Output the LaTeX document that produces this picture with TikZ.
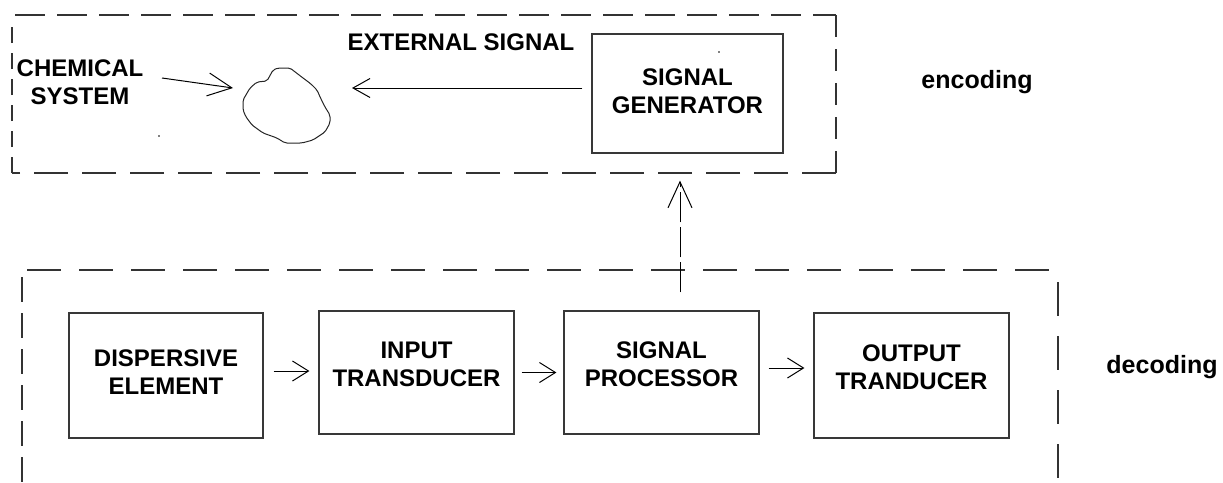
\documentclass[tikz,border=0pt]{standalone}
\usepackage{fontspec}
\setmainfont{Liberation Sans}
\usetikzlibrary{arrows.meta}
\begin{document}
\begin{tikzpicture}[x=1pt,y=-1pt,
  box/.style={draw=black!78,line width=1.2pt,inner sep=0pt},
  lbl/.style={font=\bfseries\fontsize{24}{28}\selectfont,align=center,inner sep=0pt},
  side/.style={font=\bfseries\fontsize{25}{30}\selectfont,inner sep=0pt},
  arr/.style={line width=1pt,-{Straight Barb[length=16pt,width=20pt,line width=1pt]}},
  frame/.style={draw=black!80,line width=1.2pt}
]
\useasboundingbox (0,0) rectangle (1223,482);

% ---------- encoding frame ----------
\draw[frame,dash pattern=on 30pt off 12pt] (15,15) -- (836,15);
\draw[frame,dash pattern=on 22pt off 12pt] (836,15) -- (836,173);
\draw[frame,dash pattern=on 34pt off 14pt] (836,173) -- (12,173);
\draw[frame,dash pattern=on 16pt off 10pt] (12,173) -- (12,22);

% ---------- decoding frame ----------
\draw[frame,dash pattern=on 34pt off 18pt] (27,270) -- (1050,270);
\draw[frame,dash pattern=on 25pt off 11pt] (22,277) -- (22,482);
\draw[frame,dash pattern=on 34pt off 20pt] (1058,282) -- (1058,482);

% ---------- encoding part ----------
\node[lbl] (chem) at (80,82) {CHEMICAL\\SYSTEM};
\node[lbl] (ext) at (461,42) {EXTERNAL SIGNAL};
\node[box,minimum width=191pt,minimum height=119pt,
      label={[lbl,yshift=2pt]center:SIGNAL\\GENERATOR}] (SG) at (687.5,93.5) {};

% chemical system blob
\draw[line width=1pt,black!85,rounded corners=2pt]
  (278,68) -- (290,68) -- (303,78) -- (311,84) -- (317,90) -- (321,99) -- (325,107)
  -- (330,115) -- (330,123) -- (325,132) -- (313,140) -- (302,143) -- (285,143)
  -- (277,138) -- (263,133) -- (252,125) -- (246,117) -- (243,110) -- (243,100)
  -- (250,88) -- (257,82) -- (267,81) -- (273,70) -- cycle;
\coordinate (bl) at (233,88);
\coordinate (br) at (352,88);
\coordinate (cs) at (162,78);

\draw[line width=1pt,-{Straight Barb[length=24pt,width=23pt,line width=1pt]}] (cs) -- (bl);
\draw[line width=1pt,-{Straight Barb[length=17pt,width=19pt,line width=1pt]},shorten <=9pt]
  (SG.west |- br) -- (br);

\node[side] (enc) at (977,82) {encoding};

% ---------- decoding part ----------
\node[box,minimum width=194pt,minimum height=125pt,
      label={[lbl,yshift=3.5pt]center:DISPERSIVE\\ELEMENT}] (DE) at (166,375.5) {};
\node[box,minimum width=195pt,minimum height=123pt,
      label={[lbl,yshift=8.5pt]center:INPUT\\TRANSDUCER}] (IT) at (416.5,372.5) {};
\node[box,minimum width=195pt,minimum height=123pt,
      label={[lbl,yshift=8.5pt]center:SIGNAL\\PROCESSOR}] (SP) at (661.5,372.5) {};
\node[box,minimum width=195pt,minimum height=125pt,
      label={[lbl,yshift=8pt]center:OUTPUT\\TRANDUCER}] (OT) at (911.5,375.5) {};

\node[side] (dec) at (1162,367) {decoding};

\draw[arr,shorten <=10pt,shorten >=9pt] ([yshift=4.5pt]DE.east) -- ([yshift=4.5pt]DE.east -| IT.west);
\draw[arr,shorten <=7pt,shorten >=7pt] (IT.east) -- (IT.east -| SP.west);
\draw[arr,shorten <=9pt,shorten >=9pt] ([yshift=4.5pt]SP.east) -- ([yshift=4.5pt]SP.east -| OT.west);

\coordinate (vx) at (680,0);
\draw[line width=1pt,dash pattern=on 30pt off 5pt,
      -{Straight Barb[length=26pt,width=24pt,line width=1pt]},
      shorten <=18pt,shorten >=27pt] (SP.north -| vx) -- (SG.south -| vx);

% stray specks
\fill (159,136) circle (0.9);
\fill (719,52) circle (0.9);
\end{tikzpicture}
\end{document}
